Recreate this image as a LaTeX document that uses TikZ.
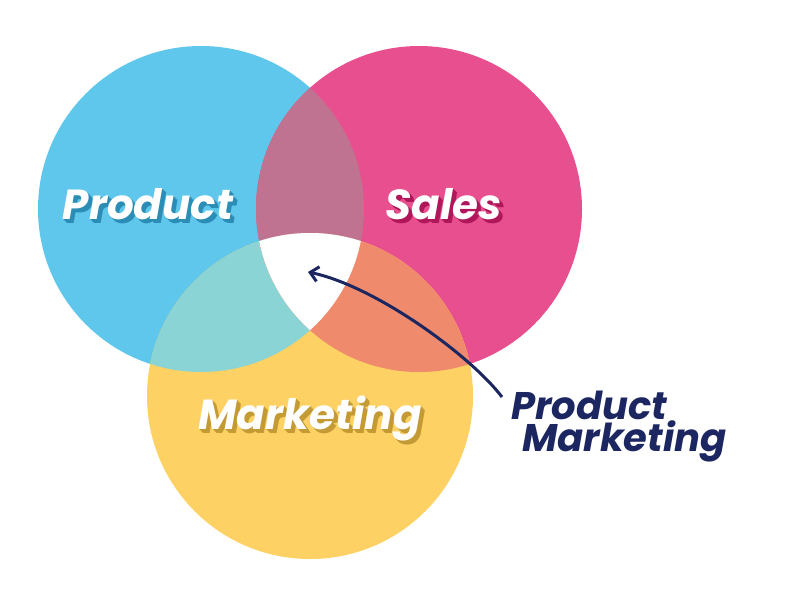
\documentclass[tikz,border=0pt]{standalone}
\usepackage{fontspec}
\newfontfamily\pop{Poppins}
\usetikzlibrary{arrows.meta}
\definecolor{cblue}{HTML}{5FC7EC}
\definecolor{cpink}{HTML}{E84F8E}
\definecolor{cyellow}{HTML}{FDD163}
\definecolor{cmauve}{HTML}{C07390}
\definecolor{cteal}{HTML}{8AD4D6}
\definecolor{csalmon}{HTML}{EF8A6D}
\definecolor{cnavy}{HTML}{1C2761}
\definecolor{sblue}{HTML}{2B8DB5}
\definecolor{spink}{HTML}{B0175A}
\definecolor{syellow}{HTML}{C49A35}
\newcommand{\layer}[3]{\makebox[0pt][l]{\hspace{#1pt}\raisebox{-#1pt}{\textcolor{#2}{#3}}}}
\newcommand{\shadowed}[2]{\layer{4}{#2}{#1}\layer{3}{#2}{#1}\layer{2}{#2}{#1}\layer{1}{#2}{#1}\textcolor{white}{#1}}
\tikzset{
  lbl/.style={font=\pop\bfseries\itshape\fontsize{42}{46}\selectfont, inner sep=0pt},
  pmlbl/.style={font=\pop\bfseries\itshape\fontsize{38.5}{42}\selectfont, inner sep=0pt, text=cnavy, anchor=west},
  pointer/.style={draw=cnavy, line width=3pt, -{Straight Barb[length=8pt,width=15pt,line width=3pt]}},
}
\begin{document}
\begin{tikzpicture}[x=1pt,y=-1pt]
\useasboundingbox (0,0) rectangle (800,600);
\fill[white] (0,0) rectangle (800,600);
\def\CB{(201,209) circle (163pt)}
\def\CP{(419,209) circle (163pt)}
\def\CY{(310,396) circle (163pt)}
\fill[cblue] \CB;
\fill[cpink] \CP;
\fill[cyellow] \CY;
\begin{scope}\clip \CB; \fill[cmauve] \CP; \fill[cteal] \CY;\end{scope}
\begin{scope}\clip \CP; \fill[csalmon] \CY;\end{scope}
\begin{scope}\clip \CB; \clip \CP; \fill[white] \CY;\end{scope}
\node[lbl] (product) at (148,206) {\shadowed{Product}{sblue}};
\node[lbl] (sales) at (444,206) {\shadowed{Sales}{spink}};
\node[lbl] (marketing) at (310,420) {\shadowed{Marketing}{syellow}};
\node[pmlbl] (pm1) at (511,405) {Product};
\node[pmlbl] (pm2) at (522,441) {Marketing};
\coordinate (tail) at (502,397);
\coordinate (tip) at (308,272);
\draw[pointer] (tail) .. controls (470,355) and (375,286) .. (tip);
\end{tikzpicture}
\end{document}
